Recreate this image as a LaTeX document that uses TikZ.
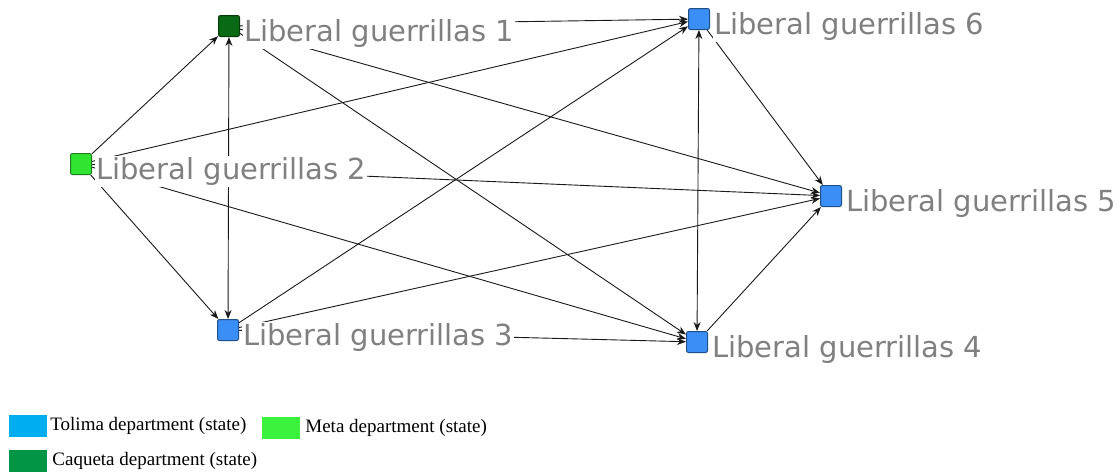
\documentclass[tikz,border=0pt]{standalone}
\usepackage{fontspec}
\usetikzlibrary{positioning, arrows.meta}
\usetikzlibrary{backgrounds}
\newfontfamily\labfont{DejaVu Sans}
\newfontfamily\legfont{Liberation Serif}
\definecolor{nodeblue}{RGB}{58,142,245}
\definecolor{nodedark}{RGB}{10,105,20}
\definecolor{nodelight}{RGB}{50,228,50}
\definecolor{keyblue}{RGB}{0,174,240}
\definecolor{keylight}{RGB}{60,242,60}
\definecolor{keydark}{RGB}{0,150,70}
\definecolor{labgray}{RGB}{128,128,128}

\begin{document}
\begin{tikzpicture}[x=1pt, y=-1pt,
    sq/.style={draw=#1!55!black, fill=#1, rounded corners=2pt, line width=1pt, minimum size=21pt, inner sep=0pt},
    lbl/.style={fill=white, inner sep=1pt, text=labgray, font=\labfont\fontsize{29}{34}\selectfont},
    link/.style={-{Stealth[length=9pt,width=7pt]}, line width=0.9pt, black!90},
    swatch/.style={fill=#1, minimum width=38pt, minimum height=22pt, inner sep=0pt},
    legtext/.style={inner sep=0pt, font=\legfont\fontsize{19}{22}\selectfont}]
            \useasboundingbox (0,0) rectangle (1120,474);

            \node[sq=nodedark] (g1) at (229,26) {};
            \node[sq=nodelight] (g2) at (81,164) {};
            \node[sq=nodeblue] (g3) at (228,330) {};
            \node[sq=nodeblue] (g4) at (697,342) {};
            \node[sq=nodeblue] (g5) at (831,196) {};
            \node[sq=nodeblue] (g6) at (699,19) {};

            \node[lbl, right=3pt of g1, yshift=-7.5pt] (t1) {Liberal guerrillas 1};
            \node[lbl, right=3pt of g2, yshift=-7.5pt] (t2) {Liberal guerrillas 2};
            \node[lbl, right=3pt of g3, yshift=-7.5pt] (t3) {Liberal guerrillas 3};
            \node[lbl, right=3pt of g4, yshift=-7.5pt] (t4) {Liberal guerrillas 4};
            \node[lbl, right=3pt of g5, yshift=-7.5pt] (t5) {Liberal guerrillas 5};
            \node[lbl, right=3pt of g6, yshift=-7.5pt] (t6) {Liberal guerrillas 6};

            % Draw edges
            \begin{scope}[on background layer]
                \draw[link] (g2) -- (g1);
                \draw[link] (g2) -- (g3);
                \draw[link, {Stealth[length=9pt,width=7pt]}-{Stealth[length=9pt,width=7pt]}] (g1) -- (g3);
                \draw[link] (g1) -- (g6);
                \draw[link] (g1) -- (g5);
                \draw[link] (g1) -- (g4);
                \draw[link] (g2) -- (g6);
                \draw[link] (g2) -- (g5);
                \draw[link] (g2) -- (g4);
                \draw[link] (g3) -- (g6);
                \draw[link] (g3) -- (g5);
                \draw[link] (g3) -- (g4);
                \draw[link, {Stealth[length=9pt,width=7pt]}-{Stealth[length=9pt,width=7pt]}] (g6) -- (g4);
                \draw[link] (g6) -- (g5);
                \draw[link] (g4) -- (g5);
            \end{scope}

            % Legend
            \node[swatch=keyblue] (k1) at (28,426) {};
            \node[legtext, right=3pt of k1] (k1t) {Tolima department (state)};
            \node[swatch=keylight] (k2) at (281,428) {};
            \node[legtext, right=5pt of k2] (k2t) {Meta department (state)};
            \node[swatch=keydark] (k3) at (28,461) {};
            \node[legtext, right=5pt of k3] (k3t) {Caqueta department (state)};

        \end{tikzpicture}
\end{document}
